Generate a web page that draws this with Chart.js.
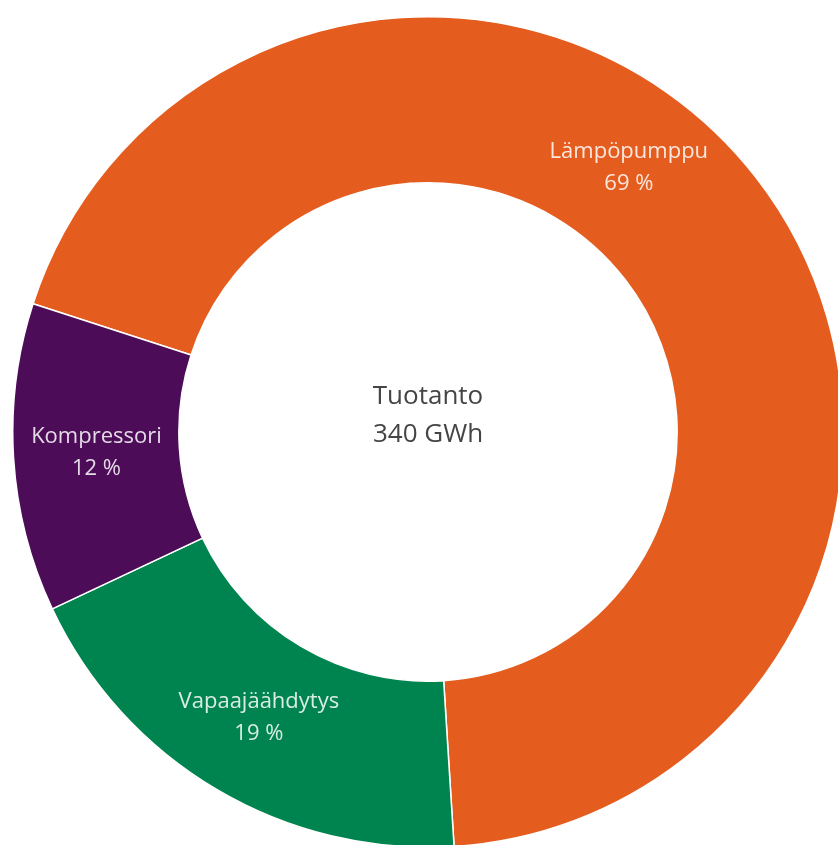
<!DOCTYPE html>
<html>
<head>
<meta charset="utf-8">
<title>Tuotanto 340 GWh</title>
<script src="https://cdn.jsdelivr.net/npm/chart.js@4.4.0/dist/chart.umd.min.js"></script>
<style>
  html, body { margin: 0; padding: 0; background: #ffffff; overflow: hidden; }
  body { width: 838px; height: 845px; position: relative; }
  #wrap { position: absolute; left: 12px; top: 16px; width: 832px; height: 832px; }
</style>
</head>
<body>
<div id="wrap"><canvas id="donut"></canvas></div>
<script>
const categories = ["Lämpöpumppu", "Vapaajäähdytys", "Kompressori"];
const shares = [69, 19, 12];
const centerLines = ["Tuotanto", "340 GWh"];

const sliceColors = ["#E45D1F", "#00844F", "#4C0C57"];
const fontFamily = "'Open Sans', 'Noto Sans', sans-serif";

// writes the name and share inside each ring segment
const sliceLabels = {
    id: "sliceLabels",
    afterDatasetsDraw(chart, args, opts) {
        const ctx = chart.ctx;
        const meta = chart.getDatasetMeta(0);
        ctx.save();
        ctx.fillStyle = opts.color;
        ctx.font = opts.size + "px " + fontFamily;
        ctx.textAlign = "center";
        ctx.textBaseline = "middle";
        meta.data.forEach((arc, i) => {
            const p = arc.getProps(["x", "y", "startAngle", "endAngle", "innerRadius", "outerRadius"], true);
            const shift = (opts.angleShift[i] || 0) * Math.PI / 180;
            const mid = (p.startAngle + p.endAngle) / 2 + shift;
            const r = (p.innerRadius + p.outerRadius) / 2;
            const lx = p.x + Math.cos(mid) * r;
            const ly = p.y + Math.sin(mid) * r;
            ctx.fillText(chart.data.labels[i], lx, ly - opts.lineGap / 2);
            ctx.fillText(chart.data.datasets[0].data[i] + " %", lx, ly + opts.lineGap / 2);
        });
        ctx.restore();
    }
};

// total in the hole of the ring
const centerText = {
    id: "centerText",
    afterDraw(chart, args, opts) {
        const ctx = chart.ctx;
        const arc = chart.getDatasetMeta(0).data[0];
        ctx.save();
        ctx.fillStyle = opts.color;
        ctx.font = opts.size + "px " + fontFamily;
        ctx.textAlign = "center";
        ctx.textBaseline = "middle";
        centerLines.forEach((line, i) => {
            ctx.fillText(line, arc.x, arc.y + opts.offset + i * opts.lineGap);
        });
        ctx.restore();
    }
};

new Chart(document.getElementById("donut"), {
    type: "doughnut",
    plugins: [sliceLabels, centerText],
    data: {
        labels: categories,
        datasets: [{
            data: shares,
            backgroundColor: sliceColors,
            borderColor: "#ffffff",
            borderWidth: 1.5,
        }],
    },
    options: {
        responsive: true,
        maintainAspectRatio: false,
        animation: false,
        rotation: -72,
        cutout: "60%",
        layout: { padding: 0 },
        plugins: {
            legend: { display: false },
            tooltip: { enabled: false },
            sliceLabels: {
                color: "rgba(255,255,255,0.85)",
                size: 22,
                lineGap: 32,
                angleShift: [-15, 0, 0],
            },
            centerText: {
                color: "#454545",
                size: 26,
                offset: -35,
                lineGap: 38,
            },
        },
    },
});
</script>
</body>
</html>
